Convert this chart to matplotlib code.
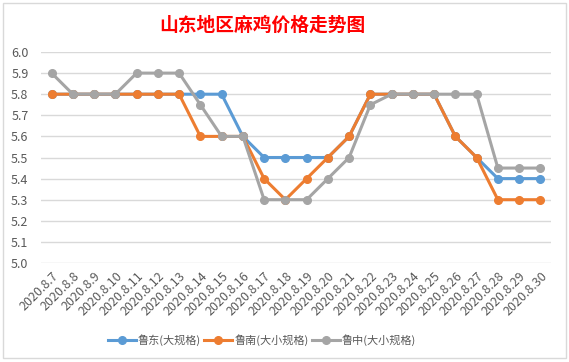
import numpy as np
import matplotlib.pyplot as plt
from matplotlib.patches import Rectangle

plt.rcParams['font.family'] = ['Noto Sans CJK SC', 'DejaVu Sans']

dates = ["2020.8.7", "2020.8.8", "2020.8.9", "2020.8.10", "2020.8.11", "2020.8.12",
         "2020.8.13", "2020.8.14", "2020.8.15", "2020.8.16", "2020.8.17", "2020.8.18",
         "2020.8.19", "2020.8.20", "2020.8.21", "2020.8.22", "2020.8.23", "2020.8.24",
         "2020.8.25", "2020.8.26", "2020.8.27", "2020.8.28", "2020.8.29", "2020.8.30"]
ludong = [5.8, 5.8, 5.8, 5.8, 5.8, 5.8, 5.8, 5.8, 5.8, 5.6, 5.5, 5.5,
          5.5, 5.5, 5.6, 5.8, 5.8, 5.8, 5.8, 5.6, 5.5, 5.4, 5.4, 5.4]
lunan = [5.8, 5.8, 5.8, 5.8, 5.8, 5.8, 5.8, 5.6, 5.6, 5.6, 5.4, 5.3,
         5.4, 5.5, 5.6, 5.8, 5.8, 5.8, 5.8, 5.6, 5.5, 5.3, 5.3, 5.3]
luzhong = [5.9, 5.8, 5.8, 5.8, 5.9, 5.9, 5.9, 5.75, 5.6, 5.6, 5.3, 5.3,
           5.3, 5.4, 5.5, 5.75, 5.8, 5.8, 5.8, 5.8, 5.8, 5.45, 5.45, 5.45]
names = ["鲁东(大规格)", "鲁南(大小规格)", "鲁中(大小规格)"]
colors = ["#5B9BD5", "#ED7D31", "#A5A5A5"]

fig = plt.figure(figsize=(5.69, 3.62), dpi=100)
fig.patches.append(Rectangle((3 / 569, 4 / 362), 563 / 569, 355 / 362, transform=fig.transFigure,
                             fill=False, edgecolor="#D9D9D9", linewidth=1))
ax = fig.add_axes([41 / 569, 1 - 263 / 362, 510 / 569, 211 / 362])

x = np.arange(len(dates))
for ys, name, c in zip([ludong, lunan, luzhong], names, colors):
    ax.plot(x, ys, color=c, linewidth=2.2, marker="o", markersize=5.5, label=name)

ax.set_xlim(-0.5, len(dates) - 0.5)
ax.set_ylim(5.0, 6.0)
ax.set_yticks(np.arange(5.0, 6.01, 0.1))
ax.set_yticklabels([f"{v:.1f}" for v in np.arange(5.0, 6.01, 0.1)])
ax.set_xticks(x)
ax.set_xticklabels(dates, rotation=45, ha="right", rotation_mode="anchor")
ax.tick_params(axis="both", length=0, labelsize=9, labelcolor="#595959")
ax.tick_params(axis="x", pad=5)
ax.tick_params(axis="y", pad=9)
ax.grid(axis="y", color="#D9D9D9", linewidth=1)
ax.set_axisbelow(True)
for s in ax.spines.values():
    s.set_visible(False)

fig.text(262 / 569, 1 - 25 / 362, "山东地区麻鸡价格走势图", color="#FF0000",
         fontsize=13.5, fontweight="bold", ha="center", va="center")
fig.legend(loc="center", bbox_to_anchor=(262 / 569, 1 - 340 / 362), ncol=3, frameon=False,
           fontsize=8, handlelength=2.5, columnspacing=0.3, handletextpad=0.2,
           labelcolor="#595959")

fig.savefig("out.png", dpi=100)
